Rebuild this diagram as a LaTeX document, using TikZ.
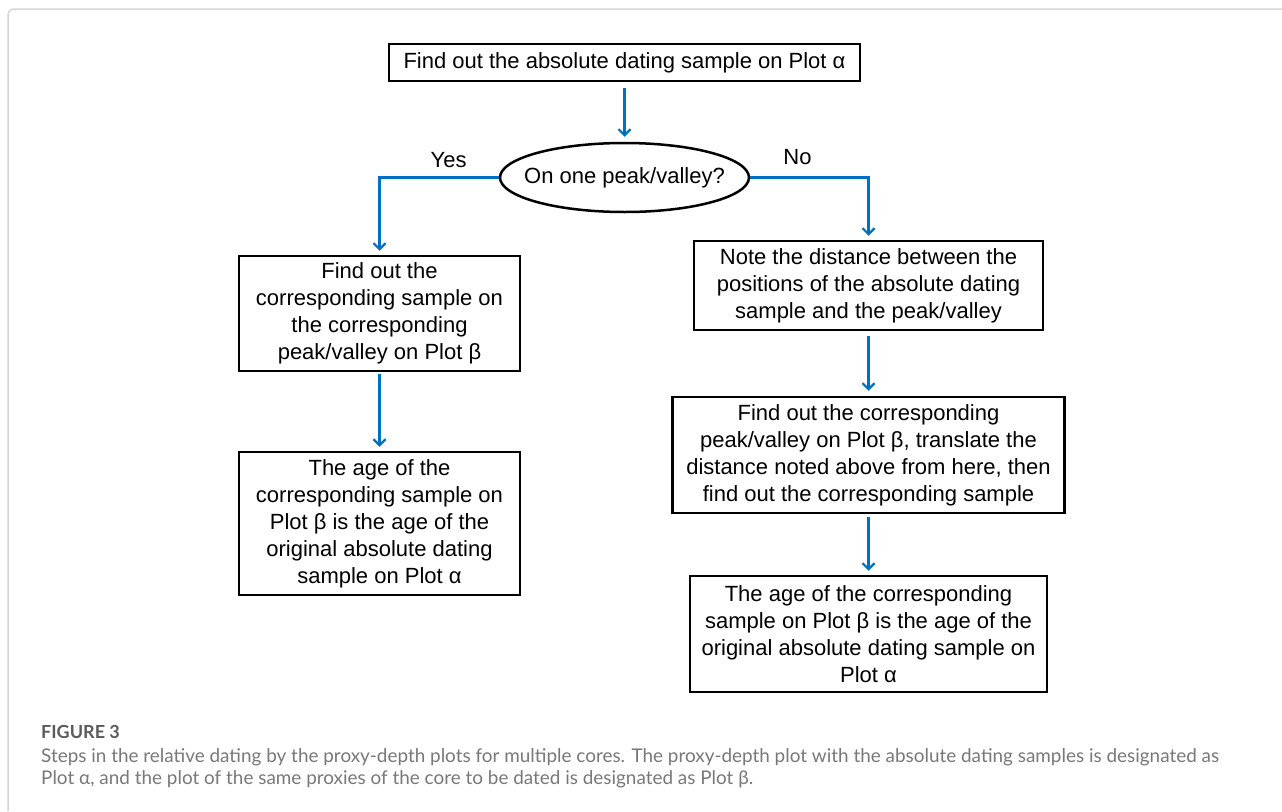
\documentclass[tikz,border=0pt]{standalone}
\usepackage{fontspec}
\setmainfont{Liberation Sans}
\newfontfamily\capfont{Lato}
\usepackage{xcolor}
\usetikzlibrary{arrows.meta}
\usetikzlibrary{shapes.geometric}
\definecolor{flowblue}{RGB}{0,112,192}
\definecolor{framegray}{RGB}{214,214,214}
\definecolor{headgray}{RGB}{90,90,90}
\definecolor{capgray}{RGB}{120,120,120}
\tikzset{
  every node/.style = {font = \fontsize{22}{27}\selectfont}
}
\tikzset{
    >={Straight Barb[length=6pt,width=12pt]}
}
\tikzset{
  flowbox/.style = {draw, line width=2.5pt, rectangle, align=center, inner sep=0pt},
  flowline/.style = {->, draw=flowblue, line width=2.2pt},
  caption/.style = {anchor=base west, inner sep=0pt, text=capgray,
    font=\capfont\fontsize{18.9}{20}\selectfont}
}

\begin{document}
\begin{tikzpicture}[x=1pt,y=-1pt]
\useasboundingbox (0,0) rectangle (1282,811);

% The frame
\draw[framegray, line width=1.5pt, rounded corners=6pt] (8,811) -- (8,9) -- (1282,9);

% Top and decision
\node[flowbox, minimum width=471, minimum height=37] (find) at (624.5,62.5)
  {Find out the absolute dating sample on Plot α};
\node[draw, ellipse, line width=2.5pt, minimum width=249, minimum height=69,
  inner xsep=-15pt, inner ysep=0pt] (peak) at (624.5,177.5) {On one peak/valley?};

% Location of boxes
% leftA    rightA
%          rightB
% leftB    rightC
\node[flowbox, minimum width=281, minimum height=115] (leftA) at (379.5,313.5)
  {Find out the\\corresponding sample on\\the corresponding\\peak/valley on Plot β};
\node[flowbox, minimum width=281, minimum height=143] (leftB) at (379.5,523.5)
  {The age of the\\corresponding sample on\\Plot β is the age of the\\original absolute dating\\sample on Plot α};
\node[flowbox, minimum width=349, minimum height=89] (rightA) at (868.5,285.5)
  {Note the distance between the\\positions of the absolute dating\\sample and the peak/valley};
\node[flowbox, minimum width=392, minimum height=116] (rightB) at (868.5,455)
  {Find out the corresponding\\peak/valley on Plot β, translate the\\distance noted above from here, then\\find out the corresponding sample};
\node[flowbox, minimum width=357, minimum height=116] (rightC) at (868.5,634)
  {The age of the corresponding\\sample on Plot β is the age of the\\original absolute dating sample on\\Plot α};

% Connectors
\draw[flowline, shorten <=6pt, shorten >=5pt] (find.south) -- (peak.north);
\draw[flowline, shorten >=4pt] (peak.west) -|
  node[pos=0.21, above=9pt, inner sep=0pt] (yes) {Yes} (leftA.north);
\draw[flowline, shorten >=4pt] (peak.east) -|
  node[pos=0.2, above=12pt, inner sep=0pt] (no) {No} (rightA.north);
\draw[flowline, shorten <=2pt, shorten >=4pt] (leftA.south) -- (leftB.north);
\draw[flowline, shorten <=5pt, shorten >=5pt] (rightA.south) -- (rightB.north);
\draw[flowline, shorten <=3pt, shorten >=4pt] (rightB.south) -- (rightC.north);

% Caption
\node[caption, text=headgray, font=\capfont\bfseries\fontsize{18}{20}\selectfont]
  (fighead) at (41,738) {FIGURE 3};
\node[caption] (capA) at (41,762)
  {Steps in the relative dating by the proxy-depth plots for multiple cores. The proxy-depth plot with the absolute dating samples is designated as};
\node[caption] (capB) at (41,784)
  {Plot α, and the plot of the same proxies of the core to be dated is designated as Plot β.};
\end{tikzpicture}
\end{document}
